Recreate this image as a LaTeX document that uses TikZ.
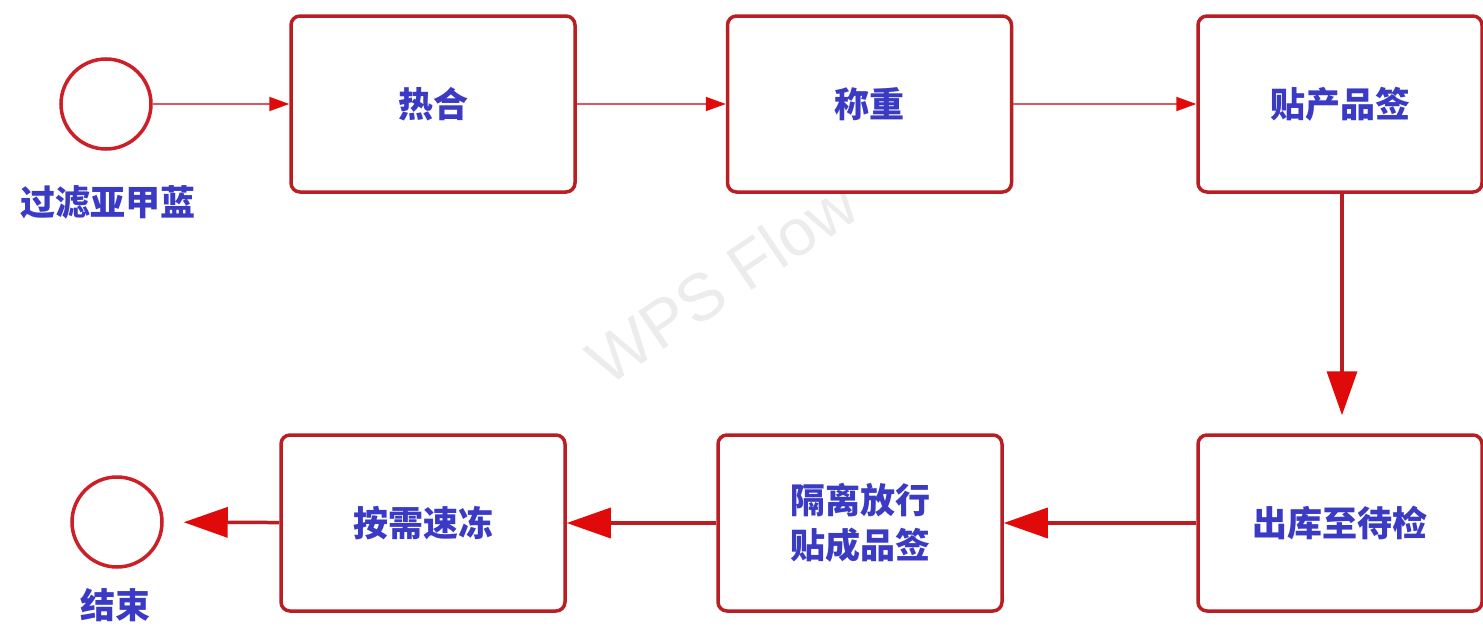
\documentclass[tikz,border=0pt]{standalone}
\usepackage{fontspec}
\setmainfont{Noto Sans CJK SC}
\setsansfont{Liberation Sans}
\usetikzlibrary{arrows.meta}
\definecolor{boxred}{HTML}{B81E22}
\definecolor{circred}{HTML}{CC1F28}
\definecolor{txtblue}{HTML}{3A3AC4}
\definecolor{thinline}{HTML}{D85A5E}
\definecolor{headred}{HTML}{E00A0A}
\definecolor{wm}{HTML}{ECECEC}
\tikzset{
  stepbox/.style={draw=boxred, line width=3.5pt, rounded corners=9pt, fill=white,
    minimum width=284pt, minimum height=176pt, inner sep=0pt, text=txtblue,
    font=\fontsize{35pt}{45pt}\selectfont\bfseries, align=center},
  circ/.style={draw=circred, line width=3.5pt, circle, minimum size=90pt, inner sep=0pt, fill=white},
  lbl/.style={text=txtblue, font=\fontsize{35pt}{40pt}\selectfont\bfseries},
  thinarrow/.style={draw=thinline, line width=2pt, -{Triangle[length=20pt,width=14pt,fill=headred,color=headred]}},
  thickarrow/.style={draw=boxred, line width=3.5pt, -{Triangle[length=44pt,width=30pt,fill=headred,color=headred]}, shorten >=18pt},
}
\begin{document}
\begin{tikzpicture}[x=1pt,y=-1pt]
\useasboundingbox (0,0) rectangle (1483,629);
\fill[white] (0,0) rectangle (1483,629);
\node[text=wm, rotate=34, font=\sffamily\fontsize{66pt}{66pt}\selectfont] (wmk) at (722,282) {WPS Flow};
\node[circ] (start) at (106,104) {};
\node[lbl] (startlbl) at (108,202) {过滤亚甲蓝};
\node[stepbox] (b1) at (433,104) {热合};
\node[stepbox] (b2) at (869.5,104) {称重};
\node[stepbox] (b3) at (1340,104) {贴产品签};
\node[stepbox] (b4) at (1340,523) {出库至待检};
\node[stepbox] (b5) at (860,523) {隔离放行\\贴成品签};
\node[stepbox] (b6) at (423,523) {按需速冻};
\node[circ] (end) at (117,522) {};
\node[lbl] (endlbl) at (115,605) {结束};
\draw[thinarrow] (start) -- (b1);
\draw[thinarrow] (b1) -- (b2);
\draw[thinarrow] (b2) -- (b3);
\draw[thickarrow] (b3.south -| 1342,0) -- (b4.north -| 1342,0);
\draw[thickarrow, shorten >=0pt] (b4) -- (b5);
\draw[thickarrow, shorten >=0pt] (b5) -- (b6);
\draw[thickarrow, shorten >=20pt] (b6) -- (end);
\end{tikzpicture}
\end{document}
